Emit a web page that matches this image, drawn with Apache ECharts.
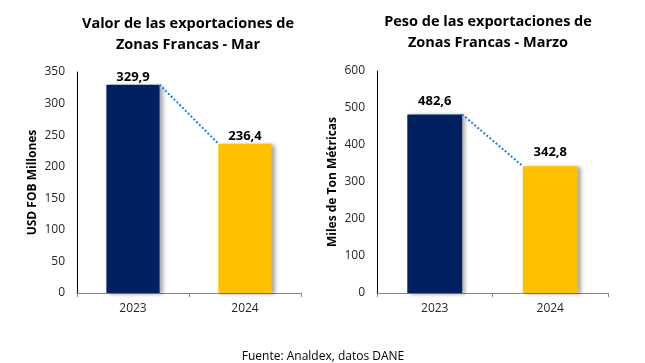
<!DOCTYPE html>
<html><head><meta charset="utf-8">
<script src="https://cdn.jsdelivr.net/npm/echarts@6/dist/echarts.min.js"></script>
<style>html,body{margin:0;padding:0;background:#fff}#c{width:645px;height:363px}</style>
</head><body><div id="c"></div>
<script>
const categories = ['2023', '2024'];
const valorValues = [329.9, 236.4];
const pesoValues = [482.6, 342.8];
const barColors = ['#002060', '#FFC000'];

const FONT = '"Open Sans", sans-serif';
const chart = echarts.init(document.getElementById('c'));
const fmt = v => v.toFixed(1).replace('.', ',');

function barSeries(idx, values, dist) {
  return {
    type: 'bar', xAxisIndex: idx, yAxisIndex: idx, barWidth: '47.5%',
    data: values.map((v, i) => ({ value: v, itemStyle: { color: barColors[i] } })),
    itemStyle: { shadowColor: 'rgba(0,0,0,0.35)', shadowBlur: 4, shadowOffsetX: 3, shadowOffsetY: 1 },
    label: { show: true, position: 'top', distance: dist, fontFamily: FONT, fontWeight: 'bold', fontSize: 13, color: '#000',
      formatter: p => fmt(p.value) },
    z: 2
  };
}
function connector(idx, values) {
  return {
    type: 'custom', xAxisIndex: idx, yAxisIndex: idx, z: 3, silent: true,
    data: [[0, values[0], 1, values[1]]],
    renderItem: (params, api) => {
      const p0 = api.coord([api.value(0), api.value(1)]);
      const p1 = api.coord([api.value(2), api.value(3)]);
      const bw = api.size([1, 0])[0] * 0.475;
      return { type: 'line', shape: { x1: p0[0] + bw / 2, y1: p0[1], x2: p1[0] - bw / 2, y2: p1[1] },
        style: { stroke: '#1F7FD8', lineWidth: 2, lineDash: [2, 2] } };
    }
  };
}
function xAxis(idx) {
  return { type: 'category', gridIndex: idx, data: categories,
    axisLine: { lineStyle: { color: '#868686', width: 1 } },
    axisTick: { show: true, length: 4, lineStyle: { color: '#868686' } },
    axisLabel: { fontFamily: FONT, fontSize: 12, color: '#262626', margin: 10 } };
}
function yAxis(idx, max, interval, name, gap) {
  return { type: 'value', gridIndex: idx, min: 0, max: max, interval: interval,
    name: name, nameLocation: 'middle', nameRotate: 90, nameGap: gap,
    nameTextStyle: { fontFamily: FONT, fontWeight: 'bold', fontSize: 12, color: '#000' },
    axisLine: { show: true, lineStyle: { color: '#000', width: 1 } },
    axisTick: { show: false }, splitLine: { show: false },
    axisLabel: { fontFamily: FONT, fontSize: 12, color: '#262626', margin: 12 } };
}

chart.setOption({
  animation: false,
  title: [
    { text: 'Valor de las exportaciones de\nZonas Francas - Mar', left: 183, top: 8, textAlign: 'center',
      textStyle: { fontFamily: FONT, fontWeight: 'bold', fontSize: 14.5, lineHeight: 21, color: '#000' } },
    { text: 'Peso de las exportaciones de\nZonas Francas - Marzo', left: 483, top: 6, textAlign: 'center',
      textStyle: { fontFamily: FONT, fontWeight: 'bold', fontSize: 14.5, lineHeight: 21, color: '#000' } },
    { text: 'Fuente: Analdex, datos DANE', left: 318, top: 346, textAlign: 'center',
      textStyle: { fontFamily: FONT, fontWeight: 'normal', fontSize: 12, color: '#000' } }
  ],
  grid: [
    { left: 77, top: 72, width: 224, height: 221 },
    { left: 377, top: 71, width: 231, height: 222 }
  ],
  xAxis: [xAxis(0), xAxis(1)],
  yAxis: [yAxis(0, 350, 50, 'USD FOB Millones', 38), yAxis(1, 600, 100, 'Miles de Ton Métricas', 38)],
  series: [barSeries(0, valorValues, 1), connector(0, valorValues), barSeries(1, pesoValues, 7), connector(1, pesoValues)]
});
</script></body></html>
